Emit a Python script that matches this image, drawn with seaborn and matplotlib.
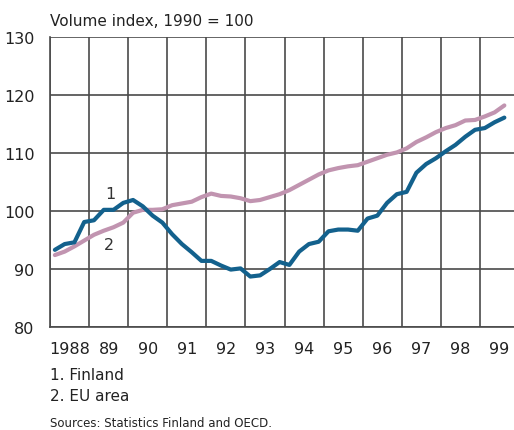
import numpy as np
import pandas as pd
import matplotlib
matplotlib.use("Agg")
import matplotlib.pyplot as plt
import seaborn as sns

# quarterly data, 1988Q1 .. 1999Q3
finland = [93.3, 94.3, 94.6, 98.1, 98.4, 100.2, 100.2, 101.4, 101.9, 100.8,
           99.2, 98.0, 96.0, 94.3, 92.9, 91.4, 91.4, 90.6, 89.9, 90.1,
           88.7, 88.9, 90.0, 91.2, 90.7, 93.0, 94.3, 94.7, 96.5, 96.8,
           96.8, 96.6, 98.7, 99.2, 101.4, 102.9, 103.3, 106.6, 108.1, 109.1,
           110.3, 111.4, 112.8, 114.0, 114.3, 115.3, 116.1]
eu_area = [92.4, 93.0, 93.9, 94.9, 95.9, 96.6, 97.2, 98.0, 99.7, 100.2,
           100.2, 100.3, 101.0, 101.3, 101.6, 102.4, 103.0, 102.6, 102.5, 102.2,
           101.7, 101.9, 102.4, 102.9, 103.6, 104.5, 105.4, 106.3, 107.0, 107.4,
           107.7, 107.9, 108.5, 109.1, 109.7, 110.1, 110.8, 111.9, 112.7, 113.6,
           114.3, 114.8, 115.6, 115.7, 116.3, 117.0, 118.2]
year_labels = ['1988', '89', '90', '91', '92', '93', '94', '95', '96', '97', '98', '99']

n = len(finland)
t = 1988 + (np.arange(n) + 0.5) / 4
df = pd.DataFrame({'t': np.concatenate([t, t]),
                   'value': finland + eu_area,
                   'series': ['Finland'] * n + ['EU area'] * n})

sns.set_style("white")
plt.rcParams['font.family'] = ['DejaVu Sans']

fig = plt.figure(figsize=(5.14, 4.31), dpi=100)
ax = fig.add_axes([50 / 514, 1 - 328 / 431, 469 / 514, 290 / 431])

sns.lineplot(data=df, x='t', y='value', hue='series',
             palette={'Finland': '#13618d', 'EU area': '#c194b0'},
             hue_order=['EU area', 'Finland'],
             linewidth=3, legend=False, ax=ax,
             solid_joinstyle='round', solid_capstyle='round')

ax.set_xlim(1988, 2000)
ax.set_ylim(80, 130)
ax.set_xticks(np.arange(1988, 2000))
ax.set_xticklabels([])
ax.set_xticks(np.arange(1988, 2000) + 0.5, minor=True)
ax.set_xticklabels(year_labels, minor=True, fontsize=11.5, color='#222222')
ax.set_yticks(np.arange(80, 131, 10))
ax.set_yticklabels([str(v) for v in range(80, 131, 10)], fontsize=11.5, color='#222222')
ax.tick_params(axis='both', which='both', length=0)
ax.tick_params(axis='x', which='minor', pad=10)
ax.tick_params(axis='y', pad=11)
ax.grid(True, which='major', color='#4a4a4a', linewidth=1.2)
ax.set_axisbelow(True)
for s in ['top', 'right']:
    ax.spines[s].set_visible(False)
for s in ['left', 'bottom']:
    ax.spines[s].set_color('#4a4a4a')
    ax.spines[s].set_linewidth(1.2)
ax.set_xlabel('')
ax.set_ylabel('')

ax.text(1989.55, 103.0, '1', fontsize=11.5, color='#333333', ha='center', va='center')
ax.text(1989.5, 94.3, '2', fontsize=11.5, color='#333333', ha='center', va='center')

fig.text(50 / 514, 1 - 21 / 431, 'Volume index, 1990 = 100', fontsize=11, color='#222222', va='center')
fig.text(50 / 514, 1 - 376 / 431, '1. Finland', fontsize=11, color='#222222', va='center')
fig.text(50 / 514, 1 - 397 / 431, '2. EU area', fontsize=11, color='#222222', va='center')
fig.text(50 / 514, 1 - 424 / 431, 'Sources: Statistics Finland and OECD.', fontsize=8.5, color='#222222', va='center')

fig.savefig('out.png', dpi=100)
